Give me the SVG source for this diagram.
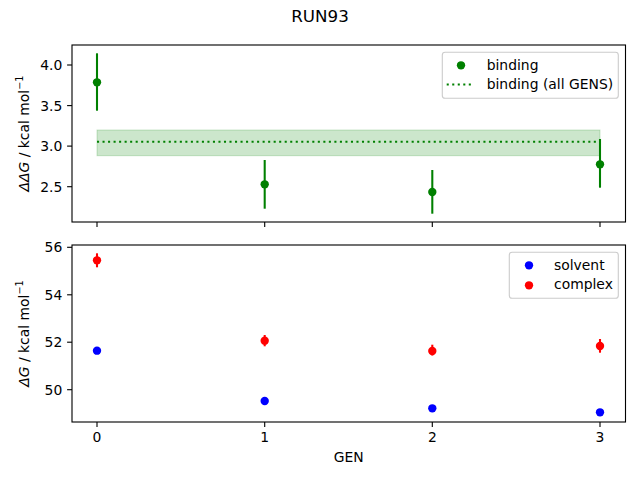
<svg xmlns="http://www.w3.org/2000/svg" width="640" height="480" viewBox="0 0 640 480">
<style>
text{font-family:"DejaVu Sans","Liberation Sans",sans-serif;fill:#000}
.tk{font-size:13.9px}
.yl{text-anchor:end}
.xl{text-anchor:middle}
.frame{fill:none;stroke:#000;stroke-width:1.11}
.tick{stroke:#000;stroke-width:1.11}
.eg{stroke:#008000;stroke-width:2.08}
.er{stroke:#ff0000;stroke-width:2.08}
.g{fill:#008000}
.r{fill:#ff0000}
.b{fill:#0000ff}
.leg{fill:#fff;fill-opacity:0.8;stroke:#cccccc;stroke-width:1.11}
.dot{stroke:#008000;stroke-width:2.08;stroke-dasharray:2.08 3.44;fill:none}
</style>
<rect width="640" height="480" fill="#fff"/>
<text x="320" y="21.5" font-size="16.7" text-anchor="middle">RUN93</text>

<g id="top-axes">
  <rect x="97" y="130" width="503" height="25.7" fill="#008000" fill-opacity="0.2" stroke="#008000" stroke-opacity="0.2" stroke-width="1"/>
  <line class="dot" x1="97" y1="141.7" x2="600" y2="141.7"/>
  <g id="binding-points">
    <line class="eg" x1="97" y1="53.3" x2="97" y2="110.7"/>
    <circle class="g" cx="97" cy="82.3" r="4.17"/>
    <line class="eg" x1="264.7" y1="160" x2="264.7" y2="208.7"/>
    <circle class="g" cx="264.7" cy="184.3" r="4.17"/>
    <line class="eg" x1="432.3" y1="170" x2="432.3" y2="213.7"/>
    <circle class="g" cx="432.3" cy="192" r="4.17"/>
    <line class="eg" x1="600" y1="139" x2="600" y2="187.7"/>
    <circle class="g" cx="600" cy="164.3" r="4.17"/>
  </g>
  <rect class="frame" x="72" y="45" width="553.5" height="177"/>
  <g class="tick">
    <line x1="97" y1="222" x2="97" y2="226.9"/>
    <line x1="264.7" y1="222" x2="264.7" y2="226.9"/>
    <line x1="432.3" y1="222" x2="432.3" y2="226.9"/>
    <line x1="600" y1="222" x2="600" y2="226.9"/>
    <line x1="72" y1="65" x2="67.1" y2="65"/>
    <line x1="72" y1="105.6" x2="67.1" y2="105.6"/>
    <line x1="72" y1="146.1" x2="67.1" y2="146.1"/>
    <line x1="72" y1="186.7" x2="67.1" y2="186.7"/>
  </g>
  <text class="tk yl" x="62.3" y="70">4.0</text>
  <text class="tk yl" x="62.3" y="110.6">3.5</text>
  <text class="tk yl" x="62.3" y="151.1">3.0</text>
  <text class="tk yl" x="62.3" y="191.7">2.5</text>
  <text class="tk" transform="translate(28.5,133.5) rotate(-90)" text-anchor="middle"><tspan font-style="italic">ΔΔG</tspan> / kcal mol<tspan font-size="9.7" dy="-5.5">−1</tspan></text>
  <g id="legend-top">
    <rect class="leg" x="442.3" y="52.3" width="176" height="46" rx="2.8"/>
    <circle class="g" cx="461" cy="65.3" r="4.17"/>
    <text class="tk" x="486.7" y="69.7">binding</text>
    <line class="dot" x1="446.7" y1="84.5" x2="474.3" y2="84.5"/>
    <text class="tk" x="486.7" y="89">binding (all GENS)</text>
  </g>
</g>

<g id="bottom-axes">
  <g id="complex-points">
    <line class="er" x1="97" y1="253.3" x2="97" y2="267.3"/>
    <circle class="r" cx="97" cy="260.3" r="4.17"/>
    <line class="er" x1="264.7" y1="335" x2="264.7" y2="346.3"/>
    <circle class="r" cx="264.7" cy="340.7" r="4.17"/>
    <line class="er" x1="432.3" y1="344.7" x2="432.3" y2="355.5"/>
    <circle class="r" cx="432.3" cy="351" r="4.17"/>
    <line class="er" x1="600" y1="339" x2="600" y2="352.7"/>
    <circle class="r" cx="600" cy="346" r="4.17"/>
  </g>
  <g id="solvent-points">
    <circle class="b" cx="97" cy="350.7" r="4.17"/>
    <circle class="b" cx="264.7" cy="401" r="4.17"/>
    <circle class="b" cx="432.3" cy="408.3" r="4.17"/>
    <circle class="b" cx="600" cy="412.3" r="4.17"/>
  </g>
  <rect class="frame" x="72" y="245" width="553.5" height="177"/>
  <g class="tick">
    <line x1="97" y1="422" x2="97" y2="426.9"/>
    <line x1="264.7" y1="422" x2="264.7" y2="426.9"/>
    <line x1="432.3" y1="422" x2="432.3" y2="426.9"/>
    <line x1="600" y1="422" x2="600" y2="426.9"/>
    <line x1="72" y1="247.3" x2="67.1" y2="247.3"/>
    <line x1="72" y1="294.8" x2="67.1" y2="294.8"/>
    <line x1="72" y1="342.2" x2="67.1" y2="342.2"/>
    <line x1="72" y1="389.7" x2="67.1" y2="389.7"/>
  </g>
  <text class="tk yl" x="62.3" y="252.3">56</text>
  <text class="tk yl" x="62.3" y="299.8">54</text>
  <text class="tk yl" x="62.3" y="347.2">52</text>
  <text class="tk yl" x="62.3" y="394.7">50</text>
  <text class="tk xl" x="97" y="442">0</text>
  <text class="tk xl" x="264.7" y="442">1</text>
  <text class="tk xl" x="432.3" y="442">2</text>
  <text class="tk xl" x="600" y="442">3</text>
  <text class="tk xl" x="348.7" y="461.7">GEN</text>
  <text class="tk" transform="translate(28.5,333.5) rotate(-90)" text-anchor="middle"><tspan font-style="italic">ΔG</tspan> / kcal mol<tspan font-size="9.7" dy="-5.5">−1</tspan></text>
  <g id="legend-bottom">
    <rect class="leg" x="509.3" y="252.3" width="109" height="46" rx="2.8"/>
    <circle class="b" cx="529" cy="265.3" r="4.17"/>
    <text class="tk" x="554" y="269.7">solvent</text>
    <circle class="r" cx="529" cy="285.3" r="4.17"/>
    <text class="tk" x="554" y="289">complex</text>
  </g>
</g>
</svg>
